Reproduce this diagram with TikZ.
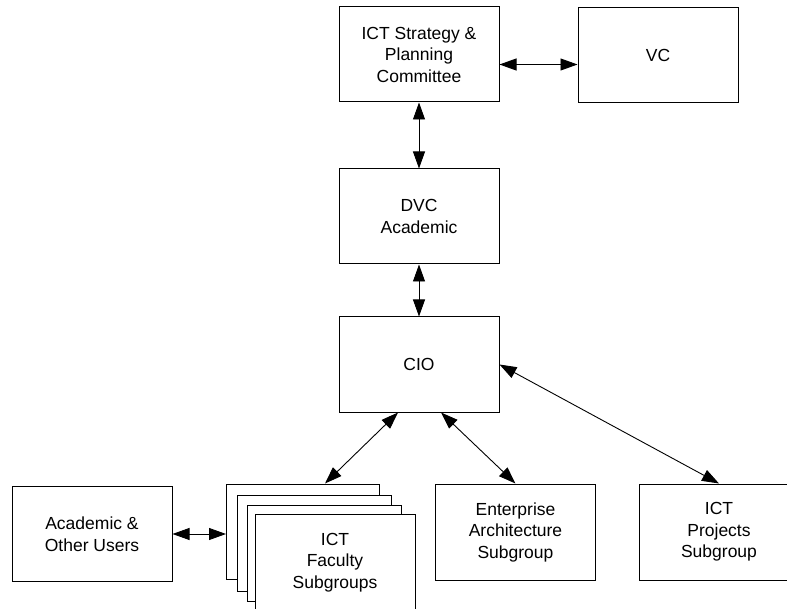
\documentclass[tikz,border=0pt]{standalone}
\usepackage{fontspec}
\setmainfont{Liberation Sans}
\usetikzlibrary{arrows.meta}
\tikzset{
  box/.style={draw=black, line width=1pt, fill=white, minimum width=160pt, minimum height=95pt,
    align=center, inner sep=2pt, font=\fontsize{17.5}{21.5}\selectfont},
  arr/.style={line width=0.9pt, {Triangle[length=17pt,width=12pt]}-{Triangle[length=17pt,width=12pt]}}
}
\begin{document}
\begin{tikzpicture}[x=1pt,y=-1pt]
\useasboundingbox (0,0) rectangle (787,609);
\node[box] (ics) at (419,54.5) {ICT Strategy \&\\Planning\\Committee};
\node[box] (vc) at (658,55.5) {VC};
\node[box] (dvc) at (419,216.5) {DVC\\Academic};
\node[box] (cio) at (419,364.5) {CIO};
\node[box] (users) at (92,534) {Academic \&\\Other Users};
\node[box, minimum width=153pt] (b1) at (303,531.5) {};
\node[box, minimum width=154pt, minimum height=96pt] (b2) at (314,543) {};
\node[box, minimum width=154pt, minimum height=96pt] (b3) at (324,553) {};
\node[box, minimum height=97pt] (fac) at (335,562.5) {ICT\\Faculty\\Subgroups};
\node[box, minimum height=96pt] (ent) at (515.5,532) {Enterprise\\Architecture\\Subgroup};
\node[box, minimum height=96pt] (proj) at (719,532) {ICT\\Projects\\Subgroup};

\draw[arr] ([yshift=-10pt]ics.east) -- ([yshift=-10pt]ics.east -| vc.west);
\draw[arr] (ics.south) -- (dvc.north);
\draw[arr] (dvc.south) -- (cio.north);
\draw[arr] ([xshift=-21pt]cio.south) -- ([xshift=22pt]b1.north);
\draw[arr] ([xshift=22pt]cio.south) -- (ent.north);
\draw[arr] (cio.east) -- (proj.north);
\draw[arr] (users.east) -- (users.east -| b1.west);
\end{tikzpicture}
\end{document}
